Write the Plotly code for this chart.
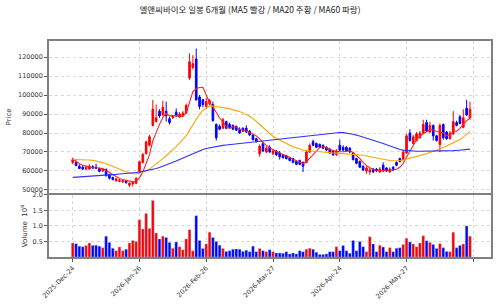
import plotly.graph_objects as go
import pandas as pd

# ---------------- data ----------------
idx = list(range(120))

opens = [64500, 64500, 62500, 62000, 61000, 61000, 62300, 62000, 61200, 60000,
         60800, 58000, 56500, 54800, 54500, 54200, 54800, 52500, 53200, 53500,
         59700, 64500, 69200, 73500, 84000, 86000, 91500, 89500, 91500, 87500,
         88000, 91000, 88500, 89000, 90500, 109000, 114500, 119000, 99000, 97500,
         94000, 95500, 95000, 84500, 83500, 82500, 86000, 84500, 84000, 83500,
         82000, 82500, 82500, 81000, 79000, 77000, 69000, 74500, 70000, 72500,
         69000, 70500, 69500, 68500, 68000, 67000, 66500, 65000, 65500, 64500,
         64500, 70000, 75500, 74500, 74000, 73500, 72500, 71500, 70500, 68500,
         73500, 72500, 72500, 72000, 69500, 66500, 65000, 62500, 60000, 59500,
         61000, 61000, 59500, 63000, 61500, 59500, 62000, 64500, 66500, 66000,
         69500, 80000, 74500, 76000, 77500, 80000, 85500, 80500, 84000, 78500,
         74000, 84500, 80500, 77000, 79500, 85500, 88500, 83000, 93000, 88000]

highs = [67000, 65500, 63500, 63000, 62800, 63500, 63000, 63800, 61800, 61500,
         61300, 58500, 57000, 56300, 55800, 55300, 55200, 54000, 54800, 56800,
         65500, 69500, 76000, 79000, 97500, 95000, 92500, 97000, 96500, 88500,
         89500, 93000, 91000, 91500, 95500, 122000, 121000, 124500, 100000, 98000,
         98500, 98000, 96500, 85000, 84500, 88000, 86500, 85500, 84500, 84000,
         83000, 83000, 84000, 81500, 79500, 77500, 74000, 75500, 73000, 73500,
         71500, 71000, 70500, 69000, 68500, 67500, 67000, 65500, 66000, 65000,
         70500, 74500, 76500, 75000, 74500, 74000, 73000, 72000, 71000, 71500,
         76500, 73500, 73000, 72500, 70000, 67000, 65500, 63000, 62500, 61500,
         61500, 61500, 62000, 64500, 62000, 62000, 62500, 65000, 67000, 71000,
         79500, 82000, 79000, 80500, 81000, 87000, 87000, 86000, 84500, 79000,
         85000, 85000, 81000, 81000, 91500, 86500, 89500, 92500, 97500, 96500]

lows = [63500, 62500, 61000, 60500, 60500, 60800, 61000, 61000, 59300, 59500,
        57000, 55500, 55000, 54300, 54000, 53800, 53300, 51500, 51800, 53000,
        59000, 64000, 68500, 73000, 83500, 85500, 88000, 89000, 86000, 84500,
        87500, 88500, 88000, 88500, 90000, 108000, 113500, 97000, 92500, 93500,
        93000, 94500, 86000, 76000, 81500, 82000, 82000, 82500, 81500, 81000,
        79500, 80500, 80000, 78500, 76000, 75000, 67500, 70000, 69500, 69500,
        68500, 68000, 66000, 66500, 66000, 65000, 64000, 63000, 63000, 59500,
        64000, 69500, 73000, 72000, 72000, 71500, 70500, 69000, 68000, 68000,
        70500, 70500, 70000, 69500, 65500, 63500, 61500, 60000, 58500, 58000,
        59000, 59500, 59000, 59500, 59500, 59000, 60000, 62500, 64500, 65500,
        69000, 75500, 74000, 75500, 77000, 79500, 80500, 80000, 76000, 75500,
        70000, 76500, 76500, 76500, 79000, 83500, 84500, 82500, 89000, 87000]

closes = [66000, 62800, 61300, 61000, 62000, 62500, 61500, 61500, 59800, 60800,
          57500, 56200, 55500, 55800, 55000, 54800, 53800, 53500, 54200, 56000,
          64900, 68700, 75300, 78000, 92500, 88000, 89000, 93500, 89000, 85500,
          89000, 89000, 90000, 90500, 94500, 117500, 116500, 97500, 94000, 95000,
          96500, 97000, 86500, 77500, 82000, 87000, 82500, 83000, 82000, 81500,
          80000, 81000, 80500, 79000, 76500, 75500, 73000, 70500, 72000, 70000,
          70500, 68500, 67500, 67000, 66500, 65500, 64500, 63500, 63500, 62500,
          70000, 73500, 73500, 72500, 72500, 72000, 71000, 69500, 68500, 70500,
          71000, 71000, 70500, 70000, 66000, 64000, 62000, 60500, 61500, 60500,
          59500, 60000, 61000, 60000, 60000, 61000, 60500, 63000, 65000, 70000,
          78500, 76000, 78000, 79500, 80000, 84500, 81000, 84000, 78500, 76000,
          84000, 77500, 77000, 80000, 86000, 84000, 85000, 88000, 89500, 92500]

volume_m = [0.45, 0.43, 0.35, 0.33, 0.37, 0.45, 0.37, 0.38, 0.35, 0.30,
            0.67, 0.47, 0.28, 0.20, 0.32, 0.20, 0.25, 0.45, 0.53, 0.50,
            1.20, 0.90, 1.40, 0.92, 1.82, 0.77, 0.58, 0.67, 0.63, 0.47,
            0.28, 0.48, 0.33, 0.23, 0.58, 0.88, 0.20, 1.33, 0.53, 0.27,
            0.42, 0.80, 0.63, 0.50, 0.38, 0.27, 0.18, 0.20, 0.25, 0.26,
            0.25, 0.18, 0.22, 0.17, 0.35, 0.17, 0.27, 0.20, 0.17, 0.23,
            0.17, 0.13, 0.13, 0.12, 0.17, 0.10, 0.13, 0.10, 0.20, 0.17,
            0.25, 0.28, 0.25, 0.15, 0.08, 0.08, 0.10, 0.17, 0.17, 0.33,
            0.20, 0.37, 0.20, 0.12, 0.53, 0.20, 0.50, 0.33, 0.17, 0.65,
            0.42, 0.17, 0.38, 0.32, 0.17, 0.30, 0.17, 0.28, 0.30, 0.40,
            0.60, 0.48, 0.42, 0.33, 0.45, 0.68, 0.52, 0.47, 0.40, 0.27,
            0.43, 0.30, 0.18, 0.17, 0.80, 0.30, 0.37, 0.42, 1.00, 0.67]

# first four MA5 values (window reaches before the displayed period)
ma5_head = [66400, 65000, 63800, 63000]

ma20 = [66000, 66000, 66000, 66000, 65900, 65800, 65600, 65300, 64900, 64400,
        63800, 63200, 62500, 61800, 61000, 60200, 59500, 58900, 58600, 58500,
        58800, 59300, 60000, 61000, 62300, 63600, 65000, 66500, 68000, 69500,
        71000, 72800, 74600, 76500, 78600, 81500, 84500, 87500, 90000, 92000,
        93300, 94000, 94200, 94000, 93800, 93500, 93100, 92700, 92300, 91800,
        91300, 90600, 89800, 88800, 87600, 86200, 84600, 82900, 81200, 79600,
        78300, 77200, 76200, 75300, 74400, 73500, 72700, 72000, 71400, 71000,
        70800, 70600, 70400, 70200, 70000, 69800, 69700, 69600, 69500, 69400,
        69300, 69200, 69100, 69000, 68900, 68800, 68600, 68300, 67900, 67500,
        67100, 66700, 66300, 66000, 65700, 65500, 65400, 65400, 65500, 65800,
        66200, 66600, 67100, 67600, 68100, 68600, 69100, 69700, 70300, 71000,
        71700, 72400, 73100, 73900, 74700, 75600, 76600, 77800, 79200, 80700]

ma60 = [56600, 56700, 56800, 56900, 57000, 57100, 57200, 57400, 57500, 57600,
        57800, 57900, 58100, 58200, 58400, 58500, 58700, 58800, 59000, 59200,
        59400, 59700, 60000, 60400, 60800, 61300, 61800, 62400, 63000, 63700,
        64400, 65200, 66000, 66800, 67600, 68400, 69200, 70000, 70700, 71300,
        71800, 72200, 72600, 72900, 73200, 73500, 73700, 73900, 74100, 74300,
        74500, 74700, 74900, 75100, 75300, 75500, 75700, 75900, 76100, 76300,
        76500, 76700, 76900, 77100, 77300, 77500, 77700, 77900, 78100, 78300,
        78500, 78700, 78900, 79100, 79300, 79500, 79700, 79900, 80100, 80200,
        80300, 80200, 80000, 79700, 79300, 78900, 78400, 77900, 77400, 76900,
        76400, 75800, 75200, 74500, 73800, 73100, 72400, 71800, 71300, 71000,
        70800, 70600, 70500, 70400, 70400, 70400, 70400, 70400, 70400, 70500,
        70500, 70500, 70600, 70600, 70700, 70800, 70900, 71100, 71300, 71500]

tick_idx = [0, 20, 40, 60, 80, 100]
tick_labels = ["2025-Dec-24", "2026-Jan-26", "2026-Feb-26", "2026-Mar-27",
               "2026-Apr-24", "2026-May-27"]
extra_tick_idx = [120]          # unlabeled tick past the last session
price_ticks = [50000, 60000, 70000, 80000, 90000, 100000, 110000, 120000]
vol_ticks = [0.5, 1.0, 1.5, 2.0]

# ---------------- derived ----------------
ma5 = pd.Series(closes, dtype=float).rolling(5).mean().tolist()
ma5[:4] = ma5_head
volume = [v * 1e6 for v in volume_m]
UP, DOWN = "#ff0000", "#0000ff"
vol_colors = [UP if c >= o else DOWN for o, c in zip(opens, closes)]

fig = go.Figure()
fig.add_trace(go.Candlestick(
    x=idx, open=opens, high=highs, low=lows, close=closes,
    increasing=dict(line=dict(color=UP, width=1), fillcolor=UP),
    decreasing=dict(line=dict(color=DOWN, width=1), fillcolor=DOWN),
    whiskerwidth=0, xaxis="x", yaxis="y", hoverinfo="skip"))
fig.add_trace(go.Scatter(x=idx, y=ma5, mode="lines",
                         line=dict(color="#ff2020", width=1.1), xaxis="x", yaxis="y"))
fig.add_trace(go.Scatter(x=idx, y=ma20, mode="lines",
                         line=dict(color="#ffa500", width=1.1), xaxis="x", yaxis="y"))
fig.add_trace(go.Scatter(x=idx, y=ma60, mode="lines",
                         line=dict(color="#3030ff", width=1.1), xaxis="x", yaxis="y"))
fig.add_trace(go.Bar(x=idx, y=volume, marker=dict(color=vol_colors,
                     line=dict(color="#9fc3e0", width=0.4)),
                     width=0.8, xaxis="x2", yaxis="y2"))

grid = dict(showgrid=True, gridcolor="#d9d9d9", griddash="dot", gridwidth=1)
frame = dict(showline=True, linecolor="#808080", linewidth=1.6, mirror=True)
tickfont = dict(family="DejaVu Sans", size=6.5, color="#333")
minor_grid = dict(tickmode="array", tickvals=extra_tick_idx, showgrid=True,
                  gridcolor="#d9d9d9", griddash="dot", gridwidth=1)

xr = [-7.1, 125.3]
fig.update_layout(
    width=500, height=307,
    margin=dict(l=46, r=7, t=41, b=47),
    paper_bgcolor="white", plot_bgcolor="white",
    showlegend=False,
    title=dict(text="엘앤씨바이오 일봉 6개월 (MA5 빨강 / MA20 주황 / MA60 파랑)",
               x=0.5, xanchor="center", y=1 - 10 / 307, yanchor="middle",
               font=dict(family="Noto Sans CJK KR", size=8.5, color="#222")),
    xaxis=dict(domain=[0, 1], anchor="y", range=xr, tickvals=tick_idx,
               showticklabels=False, ticks="", rangeslider=dict(visible=False),
               minor=dict(minor_grid), **grid, **frame),
    xaxis2=dict(domain=[0, 1], anchor="y2", range=xr, matches="x",
                tickvals=tick_idx, ticktext=tick_labels, tickangle=-45,
                ticks="outside", ticklen=3, tickcolor="#555",
                minor=dict(minor_grid, ticks="outside", ticklen=3, tickcolor="#555"),
                tickfont=tickfont, **grid, **frame),
    yaxis=dict(domain=[0.2968, 1], anchor="x", range=[48440, 128480],
               tickvals=price_ticks, ticktext=[str(v) for v in price_ticks],
               ticks="outside", ticklen=3, tickcolor="#555", tickfont=tickfont,
               title=dict(text="Price", standoff=6,
                          font=dict(family="DejaVu Sans", size=7, color="#333")),
               **grid, **frame),
    yaxis2=dict(domain=[0, 0.2877], anchor="x2", range=[0, 2.0e6],
                tickvals=[v * 1e6 for v in vol_ticks],
                ticktext=[f"{v:.1f}" for v in vol_ticks],
                ticks="outside", ticklen=3, tickcolor="#555", tickfont=tickfont,
                title=dict(text="Volume  10<sup>6</sup>", standoff=4,
                           font=dict(family="DejaVu Sans", size=7, color="#333")),
                **grid, **frame),
)

fig.write_html("out.html")
